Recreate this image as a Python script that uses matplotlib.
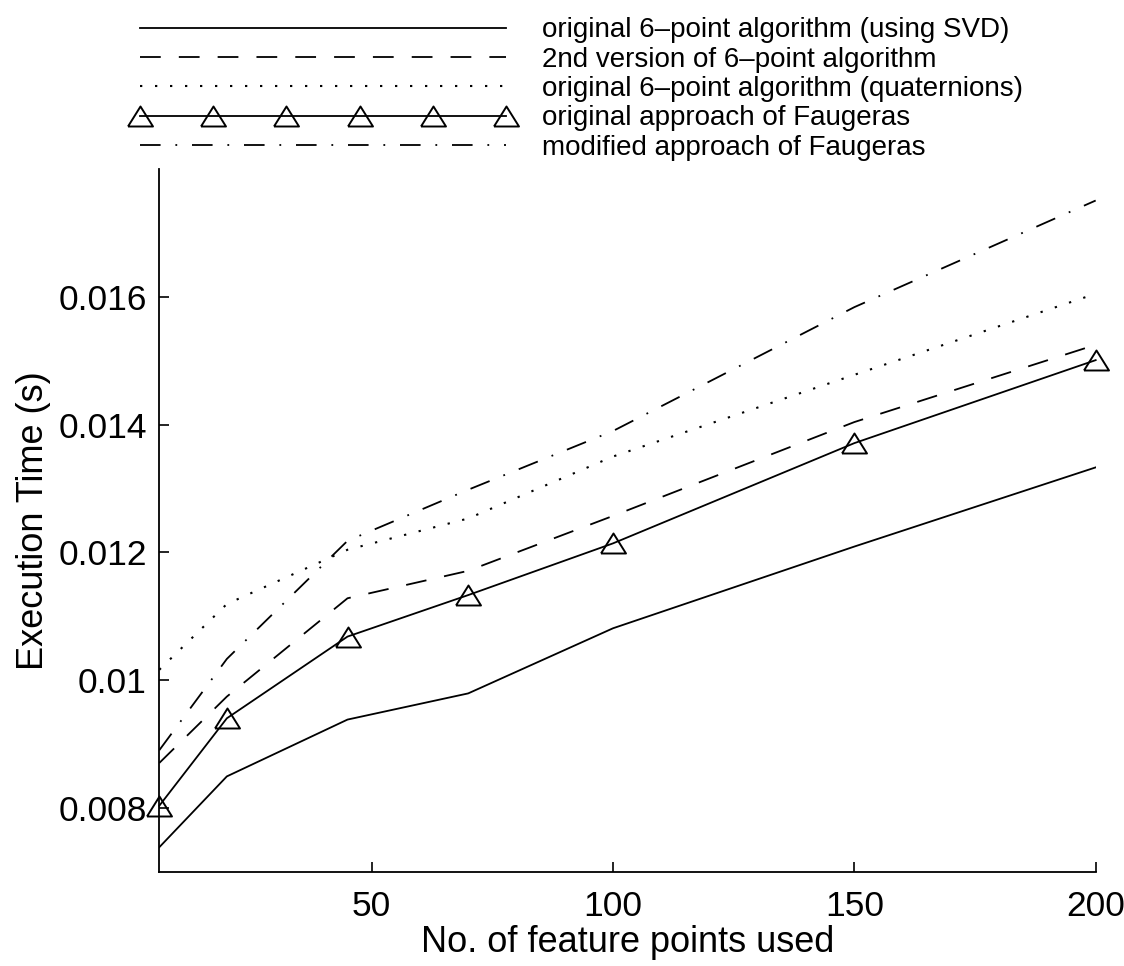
import matplotlib
matplotlib.use("Agg")
import matplotlib.pyplot as plt

plt.rcParams['font.family'] = ['Liberation Sans', 'DejaVu Sans']

# ---- data ----
n_points = [6, 20, 45, 70, 100, 150, 200]
svd_orig = [0.00738, 0.00849, 0.00938, 0.00979, 0.01081, 0.01209, 0.01333]
second_ver = [0.0087, 0.00974, 0.01128, 0.01171, 0.01257, 0.01404, 0.01525]
quat_orig = [0.01016, 0.01119, 0.01204, 0.01253, 0.0135, 0.01478, 0.01605]
faug_orig = [0.00803, 0.0094, 0.01068, 0.01133, 0.01214, 0.01371, 0.01501]
faug_mod = [0.0089, 0.01033, 0.01218, 0.01298, 0.0139, 0.01584, 0.01751]

labels = [
    "original 6\u2013point algorithm (using SVD)",
    "2nd version of 6\u2013point algorithm",
    "original 6\u2013point algorithm (quaternions)",
    "original approach of Faugeras",
    "modified approach of Faugeras",
]
xticks = [50, 100, 150, 200]
yticks = [0.008, 0.01, 0.012, 0.014, 0.016]
yticklabels = ["0.008", "0.01", "0.012", "0.014", "0.016"]

fig = plt.figure(figsize=(11.24, 9.66), dpi=100)
ax = fig.add_axes([0.1417, 0.0978, 0.9748 - 0.1417, 0.8248 - 0.0978])

lw = 1.3
tri = [(-1, -0.8), (1, -0.8), (0, 0.8), (-1, -0.8)]
h1, = ax.plot(n_points, svd_orig, color='black', lw=lw, linestyle='-')
h2, = ax.plot(n_points, second_ver, color='black', lw=lw, linestyle=(0, (11.5, 10)))
h3, = ax.plot(n_points, quat_orig, color='black', lw=1.5, linestyle=(0, (1.1, 6.1)))
h4, = ax.plot(n_points, faug_orig, color='black', lw=lw, linestyle='-',
              marker=tri, markersize=18, markerfacecolor='none',
              markeredgecolor='black', markeredgewidth=1.4, clip_on=False)
h5, = ax.plot(n_points, faug_mod, color='black', lw=lw, linestyle=(0, (11.4, 8.2, 1, 8.2)))

ax.set_xlim(6, 200)
ax.set_ylim(0.007, 0.018)
ax.set_xticks(xticks)
ax.set_xticklabels([str(t) for t in xticks])
ax.set_yticks(yticks)
ax.set_yticklabels(yticklabels)
ax.tick_params(direction='in', length=7, width=1.2, labelsize=25.5)
ax.tick_params(axis='x', pad=13)
ax.tick_params(axis='y', pad=9)
ax.spines['top'].set_visible(False)
ax.spines['right'].set_visible(False)
for s in ('left', 'bottom'):
    ax.spines[s].set_linewidth(1.3)

ax.set_xlabel("No. of feature points used", fontsize=26, labelpad=2)
ax.set_ylabel("Execution Time (s)", fontsize=26, labelpad=5)

fig.legend([h1, h2, h3, h4, h5], labels, loc='upper left',
           bbox_to_anchor=(0.1168, 0.982), frameon=False, fontsize=20,
           handlelength=13.8, handletextpad=0.97, labelspacing=0.12,
           numpoints=6, borderaxespad=0.0, borderpad=0.0)

fig.savefig("out.png", dpi=100)
